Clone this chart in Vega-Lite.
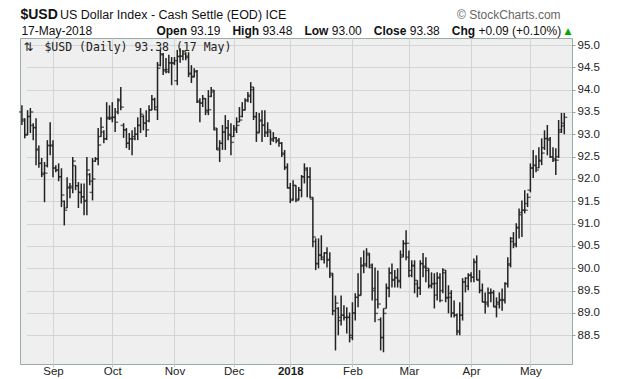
{
"$schema":"https://vega.github.io/schema/vega-lite/v6.json",
"width":552,"height":326,
"autosize":{"type":"none"},
"padding":{"left":20,"top":38,"right":48,"bottom":15},
"background":"white",
"config":{"view":{"fill":"#efefef","stroke":"#9aaba3","strokeWidth":1},"font":"Liberation Sans","axis":{"labelOverlap":false,"labelFontSize":11.5,"labelColor":"#222","gridColor":"#d4d4d4","domain":false},"axisY":{"labelPadding":2,"tickSize":3,"tickColor":"#8fa39a"},"axisX":{"labelPadding":7,"tickSize":3,"tickColor":"#c4c4c4","labelBaseline":"alphabetic","labelAngle":0}},
"resolve":{"scale":{"y":"independent"},"axis":{"y":"independent"}},
"datasets":{
"ohlc":[
{"d":"2017-08-17","o":93.50,"h":93.65,"l":93.21,"c":93.34},
{"d":"2017-08-18","o":93.30,"h":93.36,"l":92.91,"c":92.98},
{"d":"2017-08-21","o":93.00,"h":93.54,"l":92.98,"c":93.40},
{"d":"2017-08-22","o":93.40,"h":93.59,"l":93.03,"c":93.50},
{"d":"2017-08-23","o":93.20,"h":93.25,"l":92.87,"c":93.15},
{"d":"2017-08-24","o":93.15,"h":93.36,"l":92.31,"c":92.67},
{"d":"2017-08-25","o":92.65,"h":92.75,"l":92.25,"c":92.35},
{"d":"2017-08-28","o":92.35,"h":92.47,"l":92.04,"c":92.13},
{"d":"2017-08-29","o":92.10,"h":92.38,"l":91.48,"c":92.13},
{"d":"2017-08-30","o":92.30,"h":92.87,"l":92.26,"c":92.75},
{"d":"2017-08-31","o":92.75,"h":93.27,"l":92.53,"c":92.76},
{"d":"2017-09-01","o":92.74,"h":92.87,"l":92.04,"c":92.24},
{"d":"2017-09-04","o":92.25,"h":92.31,"l":92.15,"c":92.20},
{"d":"2017-09-05","o":92.20,"h":92.35,"l":91.95,"c":92.05},
{"d":"2017-09-06","o":92.05,"h":92.24,"l":91.37,"c":91.64},
{"d":"2017-09-07","o":91.50,"h":91.52,"l":90.96,"c":91.30},
{"d":"2017-09-08","o":91.35,"h":92.04,"l":91.35,"c":91.82},
{"d":"2017-09-11","o":91.80,"h":91.91,"l":91.57,"c":91.84},
{"d":"2017-09-12","o":91.80,"h":92.49,"l":91.68,"c":92.40},
{"d":"2017-09-13","o":92.30,"h":92.30,"l":91.75,"c":91.85},
{"d":"2017-09-14","o":91.85,"h":91.93,"l":91.35,"c":91.70},
{"d":"2017-09-15","o":91.70,"h":91.90,"l":91.45,"c":91.60},
{"d":"2017-09-18","o":91.60,"h":91.90,"l":91.19,"c":91.52},
{"d":"2017-09-19","o":91.50,"h":92.49,"l":91.19,"c":92.20},
{"d":"2017-09-20","o":92.10,"h":92.13,"l":91.86,"c":91.95},
{"d":"2017-09-21","o":91.70,"h":92.47,"l":91.52,"c":92.00},
{"d":"2017-09-22","o":92.40,"h":92.49,"l":92.38,"c":92.45},
{"d":"2017-09-25","o":92.45,"h":93.14,"l":92.31,"c":92.76},
{"d":"2017-09-26","o":92.95,"h":93.38,"l":92.94,"c":93.16},
{"d":"2017-09-27","o":93.05,"h":93.09,"l":92.80,"c":92.90},
{"d":"2017-09-28","o":92.90,"h":93.72,"l":92.87,"c":93.38},
{"d":"2017-09-29","o":93.35,"h":93.65,"l":93.32,"c":93.38},
{"d":"2017-10-02","o":93.35,"h":93.72,"l":93.27,"c":93.38},
{"d":"2017-10-03","o":93.38,"h":93.59,"l":93.05,"c":93.27},
{"d":"2017-10-04","o":93.50,"h":93.81,"l":93.45,"c":93.78},
{"d":"2017-10-05","o":93.75,"h":94.06,"l":93.54,"c":93.61},
{"d":"2017-10-06","o":93.20,"h":93.25,"l":92.92,"c":93.10},
{"d":"2017-10-09","o":93.10,"h":93.14,"l":92.69,"c":92.80},
{"d":"2017-10-10","o":92.80,"h":93.03,"l":92.65,"c":92.90},
{"d":"2017-10-11","o":92.90,"h":93.09,"l":92.53,"c":92.90},
{"d":"2017-10-12","o":92.95,"h":93.16,"l":92.87,"c":93.00},
{"d":"2017-10-13","o":93.00,"h":93.38,"l":92.87,"c":93.20},
{"d":"2017-10-16","o":93.20,"h":93.59,"l":93.03,"c":93.45},
{"d":"2017-10-17","o":93.40,"h":93.43,"l":93.09,"c":93.25},
{"d":"2017-10-18","o":93.25,"h":93.54,"l":92.94,"c":93.10},
{"d":"2017-10-19","o":93.30,"h":93.65,"l":93.27,"c":93.54},
{"d":"2017-10-20","o":93.55,"h":93.88,"l":93.54,"c":93.78},
{"d":"2017-10-23","o":93.78,"h":93.82,"l":93.54,"c":93.61},
{"d":"2017-10-24","o":93.55,"h":94.62,"l":93.32,"c":94.48},
{"d":"2017-10-25","o":94.55,"h":94.89,"l":94.52,"c":94.80},
{"d":"2017-10-26","o":94.78,"h":94.82,"l":94.33,"c":94.42},
{"d":"2017-10-27","o":94.45,"h":94.71,"l":94.37,"c":94.40},
{"d":"2017-10-30","o":94.45,"h":94.78,"l":94.37,"c":94.60},
{"d":"2017-10-31","o":94.60,"h":94.73,"l":94.10,"c":94.59},
{"d":"2017-11-01","o":94.60,"h":94.73,"l":94.55,"c":94.65},
{"d":"2017-11-02","o":94.20,"h":94.89,"l":94.10,"c":94.74},
{"d":"2017-11-03","o":94.75,"h":94.93,"l":94.60,"c":94.75},
{"d":"2017-11-06","o":94.75,"h":94.89,"l":94.66,"c":94.85},
{"d":"2017-11-07","o":94.80,"h":94.84,"l":94.66,"c":94.72},
{"d":"2017-11-08","o":94.75,"h":94.84,"l":94.28,"c":94.37},
{"d":"2017-11-09","o":94.35,"h":94.55,"l":94.15,"c":94.28},
{"d":"2017-11-10","o":94.30,"h":94.48,"l":94.28,"c":94.42},
{"d":"2017-11-13","o":94.40,"h":94.44,"l":93.70,"c":93.75},
{"d":"2017-11-14","o":93.72,"h":93.81,"l":93.27,"c":93.70},
{"d":"2017-11-15","o":93.70,"h":93.88,"l":93.61,"c":93.80},
{"d":"2017-11-16","o":93.80,"h":93.81,"l":93.43,"c":93.54},
{"d":"2017-11-17","o":93.50,"h":93.99,"l":93.43,"c":93.55},
{"d":"2017-11-20","o":93.85,"h":94.06,"l":93.83,"c":93.99},
{"d":"2017-11-21","o":93.95,"h":93.99,"l":93.09,"c":93.14},
{"d":"2017-11-22","o":93.10,"h":93.14,"l":92.65,"c":92.69},
{"d":"2017-11-24","o":92.65,"h":92.87,"l":92.38,"c":92.80},
{"d":"2017-11-27","o":92.80,"h":93.21,"l":92.65,"c":93.05},
{"d":"2017-11-28","o":93.05,"h":93.43,"l":92.65,"c":93.14},
{"d":"2017-11-29","o":93.15,"h":93.32,"l":92.87,"c":92.98},
{"d":"2017-11-30","o":93.00,"h":93.25,"l":92.53,"c":92.82},
{"d":"2017-12-01","o":92.95,"h":93.21,"l":92.94,"c":93.14},
{"d":"2017-12-04","o":93.10,"h":93.38,"l":93.03,"c":93.20},
{"d":"2017-12-05","o":93.28,"h":93.61,"l":93.27,"c":93.32},
{"d":"2017-12-06","o":93.40,"h":93.72,"l":93.38,"c":93.54},
{"d":"2017-12-07","o":93.55,"h":93.81,"l":93.54,"c":93.77},
{"d":"2017-12-08","o":93.75,"h":93.95,"l":93.72,"c":93.88},
{"d":"2017-12-11","o":93.85,"h":94.17,"l":93.70,"c":94.06},
{"d":"2017-12-12","o":94.00,"h":94.06,"l":93.32,"c":93.39},
{"d":"2017-12-13","o":93.40,"h":93.50,"l":92.83,"c":93.03},
{"d":"2017-12-14","o":93.05,"h":93.48,"l":93.03,"c":93.32},
{"d":"2017-12-15","o":93.30,"h":93.54,"l":92.83,"c":93.21},
{"d":"2017-12-18","o":93.20,"h":93.54,"l":92.94,"c":93.03},
{"d":"2017-12-19","o":93.05,"h":93.27,"l":92.94,"c":93.10},
{"d":"2017-12-20","o":93.05,"h":93.09,"l":92.76,"c":92.87},
{"d":"2017-12-21","o":92.90,"h":93.05,"l":92.83,"c":92.92},
{"d":"2017-12-22","o":92.92,"h":92.94,"l":92.80,"c":92.87},
{"d":"2017-12-26","o":92.85,"h":92.92,"l":92.72,"c":92.80},
{"d":"2017-12-27","o":92.80,"h":92.83,"l":92.49,"c":92.58},
{"d":"2017-12-28","o":92.55,"h":92.65,"l":92.20,"c":92.27},
{"d":"2017-12-29","o":92.25,"h":92.35,"l":91.79,"c":91.80},
{"d":"2018-01-02","o":91.80,"h":91.91,"l":91.46,"c":91.52},
{"d":"2018-01-03","o":91.55,"h":91.97,"l":91.52,"c":91.86},
{"d":"2018-01-04","o":91.85,"h":91.86,"l":91.48,"c":91.52},
{"d":"2018-01-05","o":91.55,"h":91.82,"l":91.52,"c":91.75},
{"d":"2018-01-08","o":91.75,"h":92.09,"l":91.59,"c":92.05},
{"d":"2018-01-09","o":92.05,"h":92.35,"l":91.90,"c":92.24},
{"d":"2018-01-10","o":92.20,"h":92.26,"l":91.59,"c":92.04},
{"d":"2018-01-11","o":92.05,"h":92.26,"l":91.57,"c":91.59},
{"d":"2018-01-12","o":91.55,"h":91.59,"l":90.47,"c":90.70},
{"d":"2018-01-15","o":90.60,"h":90.67,"l":89.96,"c":90.11},
{"d":"2018-01-16","o":90.10,"h":90.67,"l":90.00,"c":90.29},
{"d":"2018-01-17","o":90.30,"h":90.74,"l":90.18,"c":90.25},
{"d":"2018-01-18","o":90.20,"h":90.36,"l":90.11,"c":90.34},
{"d":"2018-01-19","o":90.35,"h":90.47,"l":90.02,"c":90.18},
{"d":"2018-01-22","o":90.20,"h":90.36,"l":89.78,"c":89.89},
{"d":"2018-01-23","o":89.85,"h":89.89,"l":88.95,"c":89.05},
{"d":"2018-01-24","o":89.05,"h":89.39,"l":88.16,"c":89.22},
{"d":"2018-01-25","o":89.10,"h":89.13,"l":88.50,"c":88.83},
{"d":"2018-01-26","o":88.90,"h":89.39,"l":88.72,"c":88.95},
{"d":"2018-01-29","o":88.95,"h":89.17,"l":88.83,"c":88.90},
{"d":"2018-01-30","o":88.90,"h":89.13,"l":88.54,"c":88.90},
{"d":"2018-01-31","o":88.90,"h":89.01,"l":88.34,"c":88.45},
{"d":"2018-02-01","o":88.50,"h":89.24,"l":88.39,"c":89.00},
{"d":"2018-02-02","o":89.00,"h":89.44,"l":88.83,"c":89.35},
{"d":"2018-02-05","o":89.35,"h":89.89,"l":89.13,"c":89.39},
{"d":"2018-02-06","o":89.40,"h":90.25,"l":89.39,"c":90.07},
{"d":"2018-02-07","o":90.05,"h":90.40,"l":89.89,"c":90.07},
{"d":"2018-02-08","o":90.10,"h":90.45,"l":90.02,"c":90.34},
{"d":"2018-02-09","o":90.30,"h":90.34,"l":90.00,"c":90.07},
{"d":"2018-02-12","o":90.02,"h":90.11,"l":89.28,"c":89.55},
{"d":"2018-02-13","o":89.50,"h":90.02,"l":88.79,"c":88.99},
{"d":"2018-02-14","o":89.30,"h":89.95,"l":89.10,"c":89.20},
{"d":"2018-02-15","o":88.85,"h":88.90,"l":88.16,"c":88.45},
{"d":"2018-02-16","o":88.45,"h":89.10,"l":88.12,"c":88.99},
{"d":"2018-02-19","o":89.10,"h":89.66,"l":89.10,"c":89.57},
{"d":"2018-02-20","o":89.55,"h":90.02,"l":89.35,"c":89.89},
{"d":"2018-02-21","o":89.90,"h":90.11,"l":89.57,"c":89.73},
{"d":"2018-02-22","o":89.75,"h":89.96,"l":89.57,"c":89.78},
{"d":"2018-02-23","o":89.80,"h":90.00,"l":89.57,"c":89.73},
{"d":"2018-02-26","o":89.70,"h":90.40,"l":89.55,"c":90.25},
{"d":"2018-02-27","o":90.30,"h":90.63,"l":90.25,"c":90.56},
{"d":"2018-02-28","o":90.55,"h":90.85,"l":90.18,"c":90.56},
{"d":"2018-03-01","o":90.25,"h":90.40,"l":89.80,"c":89.84},
{"d":"2018-03-02","o":89.95,"h":90.18,"l":89.80,"c":90.07},
{"d":"2018-03-05","o":90.05,"h":90.18,"l":89.44,"c":89.73},
{"d":"2018-03-06","o":89.65,"h":89.73,"l":89.35,"c":89.57},
{"d":"2018-03-07","o":89.55,"h":90.18,"l":89.40,"c":90.11},
{"d":"2018-03-08","o":90.10,"h":90.34,"l":89.80,"c":90.02},
{"d":"2018-03-09","o":90.05,"h":90.25,"l":89.69,"c":90.00},
{"d":"2018-03-12","o":89.95,"h":90.00,"l":89.55,"c":89.62},
{"d":"2018-03-13","o":89.60,"h":89.91,"l":89.55,"c":89.66},
{"d":"2018-03-14","o":89.65,"h":89.89,"l":89.10,"c":89.66},
{"d":"2018-03-15","o":89.40,"h":89.91,"l":89.28,"c":89.78},
{"d":"2018-03-16","o":89.80,"h":89.89,"l":89.24,"c":89.28},
{"d":"2018-03-19","o":89.50,"h":90.00,"l":89.44,"c":89.96},
{"d":"2018-03-20","o":89.90,"h":89.96,"l":89.24,"c":89.33},
{"d":"2018-03-21","o":89.35,"h":89.62,"l":88.99,"c":89.35},
{"d":"2018-03-22","o":89.44,"h":89.51,"l":88.90,"c":88.99},
{"d":"2018-03-23","o":89.00,"h":89.28,"l":88.90,"c":88.95},
{"d":"2018-03-26","o":88.95,"h":88.99,"l":88.50,"c":88.57},
{"d":"2018-03-27","o":88.60,"h":89.24,"l":88.50,"c":88.95},
{"d":"2018-03-28","o":88.95,"h":89.78,"l":88.83,"c":89.69},
{"d":"2018-03-29","o":89.70,"h":89.80,"l":89.46,"c":89.78},
{"d":"2018-03-30","o":89.60,"h":89.89,"l":89.51,"c":89.84},
{"d":"2018-04-02","o":89.85,"h":89.91,"l":89.69,"c":89.80},
{"d":"2018-04-03","o":89.80,"h":90.22,"l":89.69,"c":90.13},
{"d":"2018-04-04","o":90.15,"h":90.29,"l":89.73,"c":89.73},
{"d":"2018-04-05","o":89.75,"h":89.96,"l":89.44,"c":89.51},
{"d":"2018-04-06","o":89.50,"h":89.66,"l":89.24,"c":89.24},
{"d":"2018-04-09","o":89.25,"h":89.46,"l":88.99,"c":89.24},
{"d":"2018-04-10","o":89.20,"h":89.57,"l":89.13,"c":89.44},
{"d":"2018-04-11","o":89.45,"h":89.55,"l":89.24,"c":89.46},
{"d":"2018-04-12","o":89.45,"h":89.51,"l":89.13,"c":89.13},
{"d":"2018-04-13","o":89.15,"h":89.35,"l":88.90,"c":89.24},
{"d":"2018-04-16","o":89.20,"h":89.46,"l":89.10,"c":89.28},
{"d":"2018-04-17","o":89.30,"h":89.55,"l":89.05,"c":89.28},
{"d":"2018-04-18","o":89.30,"h":89.69,"l":89.21,"c":89.66},
{"d":"2018-04-19","o":89.65,"h":90.25,"l":89.57,"c":90.07},
{"d":"2018-04-20","o":90.10,"h":90.70,"l":90.02,"c":90.67},
{"d":"2018-04-23","o":90.60,"h":90.81,"l":90.45,"c":90.52},
{"d":"2018-04-24","o":90.55,"h":91.01,"l":90.47,"c":90.92},
{"d":"2018-04-25","o":90.90,"h":91.34,"l":90.67,"c":91.25},
{"d":"2018-04-26","o":91.20,"h":91.52,"l":90.70,"c":91.30},
{"d":"2018-04-27","o":91.30,"h":91.75,"l":91.23,"c":91.30},
{"d":"2018-04-30","o":91.45,"h":91.68,"l":91.37,"c":91.59},
{"d":"2018-05-01","o":91.75,"h":92.35,"l":91.70,"c":92.24},
{"d":"2018-05-02","o":92.25,"h":92.65,"l":92.02,"c":92.31},
{"d":"2018-05-03","o":92.30,"h":92.53,"l":92.15,"c":92.20},
{"d":"2018-05-04","o":92.25,"h":92.71,"l":92.24,"c":92.42},
{"d":"2018-05-07","o":92.40,"h":92.91,"l":92.31,"c":92.58},
{"d":"2018-05-08","o":92.70,"h":93.09,"l":92.65,"c":92.91},
{"d":"2018-05-09","o":92.90,"h":93.21,"l":92.53,"c":92.87},
{"d":"2018-05-10","o":92.90,"h":92.94,"l":92.47,"c":92.49},
{"d":"2018-05-11","o":92.50,"h":92.71,"l":92.38,"c":92.42},
{"d":"2018-05-14","o":92.45,"h":92.69,"l":92.09,"c":92.42},
{"d":"2018-05-15","o":92.50,"h":93.32,"l":92.47,"c":93.05},
{"d":"2018-05-16","o":93.10,"h":93.48,"l":93.03,"c":93.25},
{"d":"2018-05-17","o":93.19,"h":93.48,"l":93.00,"c":93.38}
],
"t1":[{"t":"$USD"}],
"t2":[{"t":"US Dollar Index - Cash Settle (EOD) ICE"}],
"t3":[{"t":"© StockCharts.com"}],
"t4":[{"t":"17-May-2018"}],
"t5":[{"t":"Open"}],"t6":[{"t":"93.19"}],
"t7":[{"t":"High"}],"t8":[{"t":"93.48"}],
"t9":[{"t":"Low"}],"t10":[{"t":"93.00"}],
"t11":[{"t":"Close"}],"t12":[{"t":"93.38"}],
"t13":[{"t":"Chg"}],"t14":[{"t":"+0.09 (+0.10%)"}],
"t15":[{"t":"▲"}],
"t16":[{"t":"$USD (Daily) 93.38 (17 May)"}],
"t17":[{"t":"⇅"}]
},
"layer":[
 {"data":{"name":"ohlc"},
  "encoding":{
   "x":{"field":"d","type":"ordinal","sort":null,"title":null,
    "scale":{"type":"point","range":[0.5,545.7]},
    "axis":{"values":["2017-09-01","2017-10-02","2017-11-01","2017-12-01","2018-01-02","2018-02-01","2018-03-01","2018-04-02","2018-05-01"],
      "labelExpr":"datum.value == '2018-01-02' ? '2018' : utcFormat(toDate(datum.value), '%b')",
      "labelFontWeight":{"condition":{"test":"datum.value == '2018-01-02'","value":"bold"},"value":"normal"},
      "labelOverlap":false,"grid":true}},
   "y":{"field":"l","type":"quantitative","title":null,
    "scale":{"domain":[87.857,95.157],"nice":false,"zero":false},
    "axis":{"orient":"right","values":[88.5,89,89.5,90,90.5,91,91.5,92,92.5,93,93.5,94,94.5,95],"format":".1f",
      "labelOverlap":false,"grid":true}}
  },
  "layer":[
   {"mark":{"type":"rule","color":"#222","strokeWidth":1.5},"encoding":{"y2":{"field":"h"}}},
   {"mark":{"type":"tick","color":"#222","size":3,"thickness":1.4,"xOffset":-1.5,"orient":"horizontal"},"encoding":{"y":{"field":"o","type":"quantitative"}}},
   {"mark":{"type":"tick","color":"#222","size":3,"thickness":1.4,"xOffset":1.5,"orient":"horizontal"},"encoding":{"y":{"field":"c","type":"quantitative"}}}
  ]},
 {"data":{"name":"t1"},"mark":{"type":"text","align":"left","baseline":"alphabetic","font":"Liberation Sans","fontSize":14,"fontWeight":"bold","color":"#111","dx":-1.5,"dy":-19},
   "encoding":{"x":{"datum":"2017-08-17","type":"ordinal"},"y":{"datum":1,"type":"quantitative","scale":{"domain":[0,1]},"axis":null},"text":{"field":"t"}}},
 {"data":{"name":"t2"},"mark":{"type":"text","align":"left","baseline":"alphabetic","font":"Liberation Sans","fontSize":12.5,"color":"#111","dx":38,"dy":-19},
   "encoding":{"x":{"datum":"2017-08-17","type":"ordinal"},"y":{"datum":1,"type":"quantitative","scale":{"domain":[0,1]},"axis":null},"text":{"field":"t"}}},
 {"data":{"name":"t3"},"mark":{"type":"text","align":"right","baseline":"alphabetic","font":"Liberation Sans","fontSize":12,"color":"#666","dx":-3.7,"dy":-19},
   "encoding":{"x":{"datum":"2018-05-17","type":"ordinal"},"y":{"datum":1,"type":"quantitative","scale":{"domain":[0,1]},"axis":null},"text":{"field":"t"}}},
 {"data":{"name":"t4"},"mark":{"type":"text","align":"left","baseline":"alphabetic","font":"Liberation Sans","fontSize":12,"color":"#111","dx":-0.5,"dy":-3.5},
   "encoding":{"x":{"datum":"2017-08-17","type":"ordinal"},"y":{"datum":1,"type":"quantitative","scale":{"domain":[0,1]},"axis":null},"text":{"field":"t"}}},
 {"data":{"name":"t5"},"mark":{"type":"text","align":"left","baseline":"alphabetic","font":"Liberation Sans","fontSize":12,"fontWeight":"bold","color":"#111","dx":134.5,"dy":-3.5},
   "encoding":{"x":{"datum":"2017-08-17","type":"ordinal"},"y":{"datum":1,"type":"quantitative","scale":{"domain":[0,1]},"axis":null},"text":{"field":"t"}}},
 {"data":{"name":"t6"},"mark":{"type":"text","align":"left","baseline":"alphabetic","font":"Liberation Sans","fontSize":12,"color":"#111","dx":168.5,"dy":-3.5},
   "encoding":{"x":{"datum":"2017-08-17","type":"ordinal"},"y":{"datum":1,"type":"quantitative","scale":{"domain":[0,1]},"axis":null},"text":{"field":"t"}}},
 {"data":{"name":"t7"},"mark":{"type":"text","align":"left","baseline":"alphabetic","font":"Liberation Sans","fontSize":12,"fontWeight":"bold","color":"#111","dx":210.5,"dy":-3.5},
   "encoding":{"x":{"datum":"2017-08-17","type":"ordinal"},"y":{"datum":1,"type":"quantitative","scale":{"domain":[0,1]},"axis":null},"text":{"field":"t"}}},
 {"data":{"name":"t8"},"mark":{"type":"text","align":"left","baseline":"alphabetic","font":"Liberation Sans","fontSize":12,"color":"#111","dx":240.5,"dy":-3.5},
   "encoding":{"x":{"datum":"2017-08-17","type":"ordinal"},"y":{"datum":1,"type":"quantitative","scale":{"domain":[0,1]},"axis":null},"text":{"field":"t"}}},
 {"data":{"name":"t9"},"mark":{"type":"text","align":"left","baseline":"alphabetic","font":"Liberation Sans","fontSize":12,"fontWeight":"bold","color":"#111","dx":282.5,"dy":-3.5},
   "encoding":{"x":{"datum":"2017-08-17","type":"ordinal"},"y":{"datum":1,"type":"quantitative","scale":{"domain":[0,1]},"axis":null},"text":{"field":"t"}}},
 {"data":{"name":"t10"},"mark":{"type":"text","align":"left","baseline":"alphabetic","font":"Liberation Sans","fontSize":12,"color":"#111","dx":309.8,"dy":-3.5},
   "encoding":{"x":{"datum":"2017-08-17","type":"ordinal"},"y":{"datum":1,"type":"quantitative","scale":{"domain":[0,1]},"axis":null},"text":{"field":"t"}}},
 {"data":{"name":"t11"},"mark":{"type":"text","align":"left","baseline":"alphabetic","font":"Liberation Sans","fontSize":12,"fontWeight":"bold","color":"#111","dx":351.8,"dy":-3.5},
   "encoding":{"x":{"datum":"2017-08-17","type":"ordinal"},"y":{"datum":1,"type":"quantitative","scale":{"domain":[0,1]},"axis":null},"text":{"field":"t"}}},
 {"data":{"name":"t12"},"mark":{"type":"text","align":"left","baseline":"alphabetic","font":"Liberation Sans","fontSize":12,"color":"#111","dx":387.8,"dy":-3.5},
   "encoding":{"x":{"datum":"2017-08-17","type":"ordinal"},"y":{"datum":1,"type":"quantitative","scale":{"domain":[0,1]},"axis":null},"text":{"field":"t"}}},
 {"data":{"name":"t13"},"mark":{"type":"text","align":"left","baseline":"alphabetic","font":"Liberation Sans","fontSize":12,"fontWeight":"bold","color":"#111","dx":429.8,"dy":-3.5},
   "encoding":{"x":{"datum":"2017-08-17","type":"ordinal"},"y":{"datum":1,"type":"quantitative","scale":{"domain":[0,1]},"axis":null},"text":{"field":"t"}}},
 {"data":{"name":"t14"},"mark":{"type":"text","align":"left","baseline":"alphabetic","font":"Liberation Sans","fontSize":12,"color":"#111","dx":456.5,"dy":-3.5},
   "encoding":{"x":{"datum":"2017-08-17","type":"ordinal"},"y":{"datum":1,"type":"quantitative","scale":{"domain":[0,1]},"axis":null},"text":{"field":"t"}}},
 {"data":{"name":"t15"},"mark":{"type":"text","align":"left","baseline":"alphabetic","font":"DejaVu Sans","fontSize":9,"color":"#00aa00","dx":542.5,"dy":-4},
   "encoding":{"x":{"datum":"2017-08-17","type":"ordinal"},"y":{"datum":1,"type":"quantitative","scale":{"domain":[0,1]},"axis":null},"text":{"field":"t"}}},
 {"data":{"name":"t16"},"mark":{"type":"text","align":"left","baseline":"alphabetic","font":"DejaVu Sans Mono","fontSize":11.5,"color":"#222","dx":22.5,"dy":13},
   "encoding":{"x":{"datum":"2017-08-17","type":"ordinal"},"y":{"datum":1,"type":"quantitative","scale":{"domain":[0,1]},"axis":null},"text":{"field":"t"}}},
 {"data":{"name":"t17"},"mark":{"type":"text","align":"left","baseline":"alphabetic","font":"DejaVu Sans","fontSize":12,"color":"#222","dx":1.5,"dy":13},
   "encoding":{"x":{"datum":"2017-08-17","type":"ordinal"},"y":{"datum":1,"type":"quantitative","scale":{"domain":[0,1]},"axis":null},"text":{"field":"t"}}}
]
}
